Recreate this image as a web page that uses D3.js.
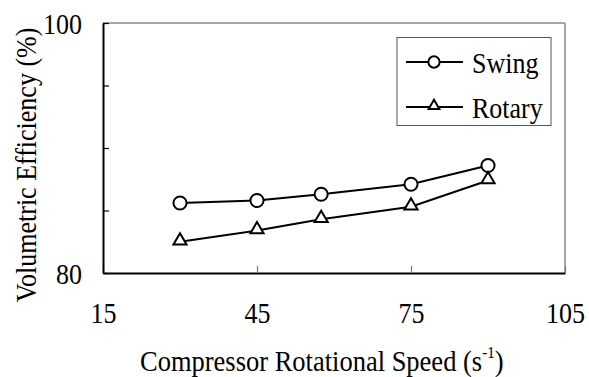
<!DOCTYPE html>
<html>
<head>
<meta charset="utf-8">
<script src="https://cdn.jsdelivr.net/npm/d3@7"></script>
<style>
  body { margin: 0; background: #fff; }
</style>
</head>
<body>
<svg width="589" height="377"></svg>
<script>
// data
let speeds = [30, 45, 57.5, 75, 90]
let swing = [85.6, 85.8, 86.3, 87.1, 88.6]
let rotary = [82.5, 83.4, 84.3, 85.3, 87.4]
let xTicks = [15, 45, 75, 105]
let yTicks = [80, 85, 90, 95, 100]
let yLabels = [80, 100]

let FONT = '"Liberation Serif"'
let STRETCH = 1.12   // the original lettering is a little taller than wide

let svg = d3.select('svg')
let plotLeft = 103, plotRight = 565, plotTop = 23, plotBottom = 273

let xScale = d3.scaleLinear().domain([15, 105]).range([plotLeft, plotRight])
let yScale = d3.scaleLinear().domain([80, 100]).range([plotBottom, plotTop])

function label(sel) {
	return sel.attr('font-family', null).style('font-family', FONT).attr('font-size', 26).attr('fill', '#000')
}

// frame: grey top/right, black left/bottom
svg.append('line')
	.attr('x1', plotLeft).attr('x2', plotRight).attr('y1', plotTop).attr('y2', plotTop)
	.attr('stroke', '#8a8a8a').attr('stroke-width', 1.5)
svg.append('line')
	.attr('x1', plotRight).attr('x2', plotRight).attr('y1', plotTop).attr('y2', plotBottom)
	.attr('stroke', '#8a8a8a').attr('stroke-width', 1.5)

let bottomAxis = d3.axisBottom(xScale)
	.tickValues(xTicks)
	.tickSizeInner(-7)
	.tickSizeOuter(0)
	.tickFormat(d => d)
let bottomAxisG = svg.append('g')
	.attr('transform', `translate(0, ${plotBottom})`)
	.call(bottomAxis)
	.attr('font-family', null)
bottomAxisG.select('.domain').attr('stroke', '#000').attr('stroke-width', 2)
bottomAxisG.selectAll('.tick line').attr('stroke', '#777').attr('stroke-width', 1.2)
bottomAxisG.selectAll('.tick text')
	.attr('x', 0).attr('y', 0).attr('dy', null)
	.attr('transform', `translate(0, 50) scale(1, ${STRETCH})`)
	.call(label)

let leftAxis = d3.axisLeft(yScale)
	.tickValues(yTicks)
	.tickSizeInner(-6)
	.tickSizeOuter(0)
	.tickFormat(d => yLabels.includes(d) ? d : '')
let leftAxisG = svg.append('g')
	.attr('transform', `translate(${plotLeft}, 0)`)
	.call(leftAxis)
	.attr('font-family', null)
leftAxisG.select('.domain').attr('stroke', '#000').attr('stroke-width', 2)
leftAxisG.selectAll('.tick line').attr('stroke', '#000').attr('stroke-width', 1.2)
leftAxisG.selectAll('.tick text')
	.attr('x', 0).attr('y', 0).attr('dy', null)
	.attr('transform', `translate(-21, 10) scale(1, ${STRETCH})`)
	.call(label)

// titles
let xTitle = svg.append('text')
	.attr('transform', `translate(140, 371) scale(1, ${STRETCH})`)
	.call(label)
	.attr('font-size', 26.5)
xTitle.append('tspan').text('Compressor Rotational Speed (s')
xTitle.append('tspan').text('-1').attr('font-size', 15).attr('dy', -12)
xTitle.append('tspan').text(')').attr('dy', 12)

svg.append('text')
	.attr('transform', `translate(36, 165) rotate(-90) scale(1, ${STRETCH})`)
	.attr('text-anchor', 'middle')
	.call(label)
	.text('Volumetric Efficiency (%)')

// series
let series = [
	{ name: 'Swing', values: swing, shape: d3.symbolCircle },
	{ name: 'Rotary', values: rotary, shape: d3.symbolTriangle }
]

let line = d3.line()
	.x(d => xScale(d[0]))
	.y(d => yScale(d[1]))

series.forEach(s => {
	let pts = speeds.map((x, i) => [x, s.values[i]])
	svg.append('path')
		.attr('d', line(pts))
		.attr('fill', 'none')
		.attr('stroke', '#000')
		.attr('stroke-width', 2)
	svg.append('g').selectAll('path')
		.data(pts)
		.enter()
		.append('path')
		.attr('d', d3.symbol().type(s.shape).size(s.shape === d3.symbolCircle ? 135 : 75))
		.attr('transform', d => `translate(${xScale(d[0])}, ${yScale(d[1]) + (s.shape === d3.symbolCircle ? 0 : -1)})`)
		.attr('fill', '#fff')
		.attr('stroke', '#000')
		.attr('stroke-width', 2)
})

// legend
let legend = svg.append('g')
legend.append('rect')
	.attr('x', 397).attr('y', 37.5).attr('width', 154).attr('height', 88)
	.attr('fill', '#fff').attr('stroke', '#555').attr('stroke-width', 1)

series.forEach((s, i) => {
	let ly = 62 + i * 45
	legend.append('line')
		.attr('x1', 406).attr('x2', 463).attr('y1', ly).attr('y2', ly)
		.attr('stroke', '#000').attr('stroke-width', 2)
	legend.append('path')
		.attr('d', d3.symbol().type(s.shape).size(s.shape === d3.symbolCircle ? 100 : 50))
		.attr('transform', `translate(434, ${ly + (s.shape === d3.symbolCircle ? 0 : -1)})`)
		.attr('fill', '#fff').attr('stroke', '#000').attr('stroke-width', 2)
	legend.append('text')
		.attr('transform', `translate(472, ${ly + 11}) scale(1, ${STRETCH})`)
		.call(label)
		.text(s.name)
})
</script>
</body>
</html>
